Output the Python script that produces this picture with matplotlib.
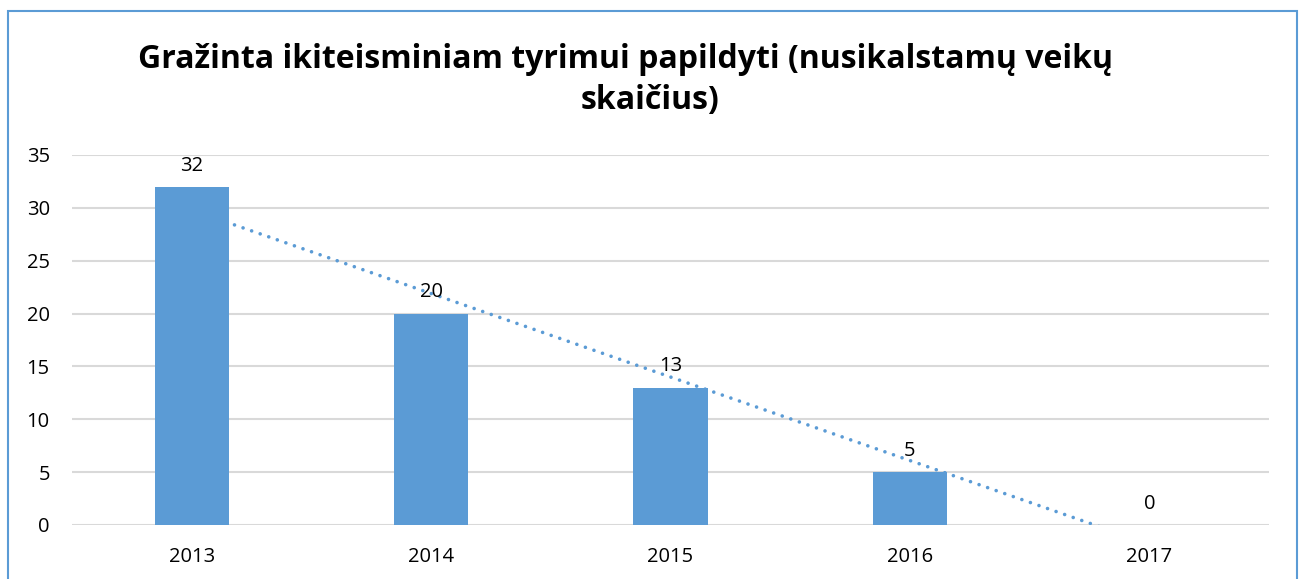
import numpy as np
import matplotlib
matplotlib.use("Agg")
import matplotlib.pyplot as plt
from matplotlib.patches import Rectangle

years = ['2013', '2014', '2015', '2016', '2017']
values = [32, 20, 13, 5, 0]
title_line1 = 'Gražinta ikiteisminiam tyrimui papildyti (nusikalstamų veikų'
title_line2 = 'skaičius)'

plt.rcParams['font.family'] = ['Open Sans', 'DejaVu Sans']

blue = '#5B9BD5'
fig = plt.figure(figsize=(12.99, 5.79), dpi=100)
ax = fig.add_axes([72 / 1299, 1 - 525 / 579, 1197 / 1299, 370 / 579])

x = np.arange(len(years))
ax.bar(x, values, width=0.31, color=blue, zorder=3)

# linear trend line (Excel style), hidden behind bars
k, b = np.polyfit(x, values, 1)
ax.plot(x, k * x + b, color=blue, lw=2.6, linestyle=(0, (0.01, 2.5)),
        dash_capstyle='round', zorder=2)

for xi, v in zip(x, values):
    ax.annotate(str(v), (xi, v), xytext=(0, 8), textcoords='offset points',
                ha='center', va='bottom', fontsize=14.5, color='black', zorder=4)

ax.set_xlim(-0.5, len(years) - 0.5)
ax.set_ylim(0, 35)
ax.set_yticks(range(0, 36, 5))
ax.set_xticks(x)
ax.set_xticklabels(years)
ax.tick_params(length=0, labelsize=14.5, colors='black')
ax.tick_params(axis='y', pad=16)
ax.tick_params(axis='x', pad=16)
ax.grid(axis='y', color='#D9D9D9', lw=1.5, zorder=0)
ax.set_axisbelow(True)
for s in ax.spines.values():
    s.set_visible(False)

fig.text(625 / 1299, 1 - 60 / 579, title_line1, ha='center', va='center',
         fontsize=23, fontweight='bold')
fig.text(650 / 1299, 1 - 100 / 579, title_line2, ha='center', va='center',
         fontsize=23, fontweight='bold')

fig.patches.append(Rectangle((8 / 1299, -0.1), 1289 / 1299, 1.1 - 11 / 579,
                             transform=fig.transFigure, fill=False,
                             edgecolor=blue, lw=1.5))

fig.savefig('out.png', dpi=100)
